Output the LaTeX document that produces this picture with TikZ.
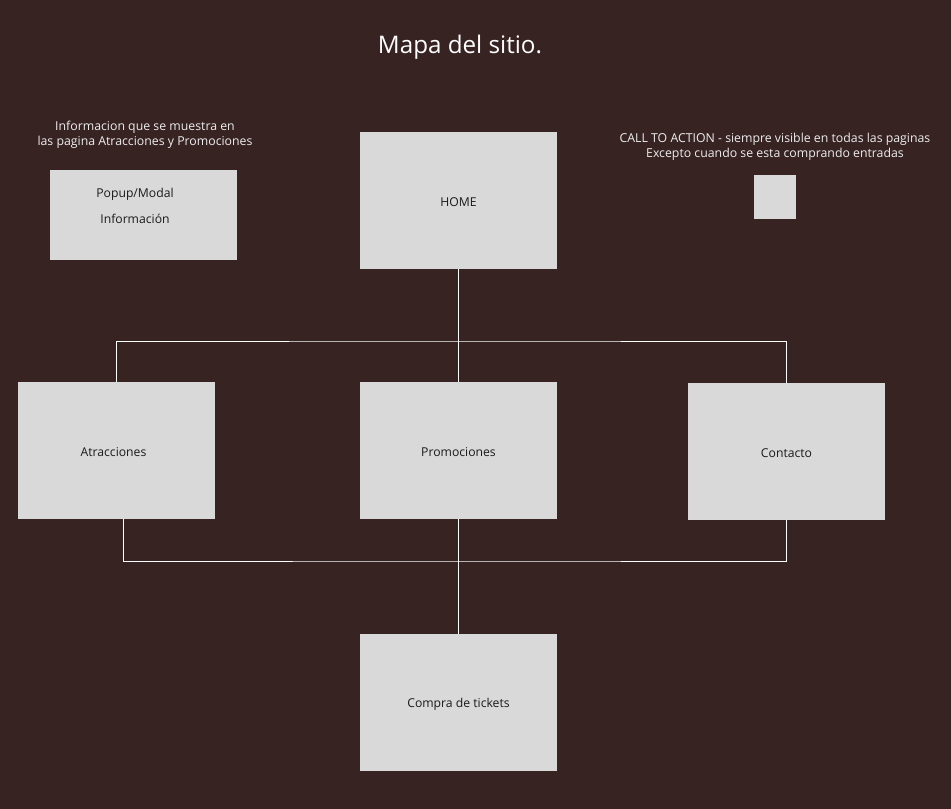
\documentclass[tikz,border=0pt]{standalone}
\usepackage{fontspec}
\setmainfont{Open Sans}
\definecolor{bg}{HTML}{382323}
\definecolor{boxc}{HTML}{D9D9D9}
\definecolor{note}{HTML}{EDEDED}
\definecolor{ink}{HTML}{1A1A1A}
\newcommand{\lowr}[1]{\raisebox{-1.8pt}[\height][\depth]{#1}}
\begin{document}
\begin{tikzpicture}[x=1pt,y=-1pt,
  pagebox/.style={fill=boxc,draw=none,inner sep=0pt},
  boxtext/.style={text=ink,font=\fontsize{12.2}{14}\selectfont},
  notetext/.style={text=note,font=\fontsize{12.3}{15}\selectfont,align=center},
  link/.style={draw=white,line width=1pt}]
\fill[bg] (0,0) rectangle (951,809);
\useasboundingbox (0,0) rectangle (951,809);
\node[text=white,font=\fontsize{24.2}{28}\selectfont] (title) at (460,47) {Mapa del sitio.};
\node[notetext] (note1) at (145,134.5) {Informacion que se muestra en\\las pagina Atracciones y Promociones};
\node[notetext] (note2) at (775,146.5) {CALL TO ACTION - siempre visible en todas las paginas\\Excepto cuando se esta comprando entradas};
% boxes
\path[pagebox] (50,170) rectangle (237,260);
\coordinate (popup) at (143.5,215);
\node[boxtext] (popt1) at (135,194.5) {Popup/Modal};
\node[boxtext] (popt2) at (135,219) {Información};
\path[pagebox] (754,175) rectangle (796,219);
\coordinate (cta) at (775,197);
\node[pagebox,minimum width=197pt,minimum height=137pt,boxtext] (home) at (458.5,200.5) {\lowr{HOME}};
\node[pagebox,minimum width=197pt,minimum height=137pt,boxtext] (atr) at (116.5,450.5) {\hspace{-6pt}\lowr{Atracciones}};
\node[pagebox,minimum width=197pt,minimum height=137pt,boxtext] (pro) at (458.5,450.5) {\lowr{Promociones}};
\node[pagebox,minimum width=197pt,minimum height=137pt,boxtext] (con) at (786.5,451.5) {\lowr{Contacto}};
\node[pagebox,minimum width=197pt,minimum height=137pt,boxtext] (com) at (458.5,702.5) {\lowr{Compra de tickets}};
% connectors
\draw[link] (home.south) -- (pro.north);
\draw[link] (atr.north) |- (458.5,341) -| (con.north);
\draw[link] ([xshift=6.5pt]atr.south) |- (458.5,561) -| (con.south);
\draw[link] (pro.south) -- (com.north);
\end{tikzpicture}
\end{document}
